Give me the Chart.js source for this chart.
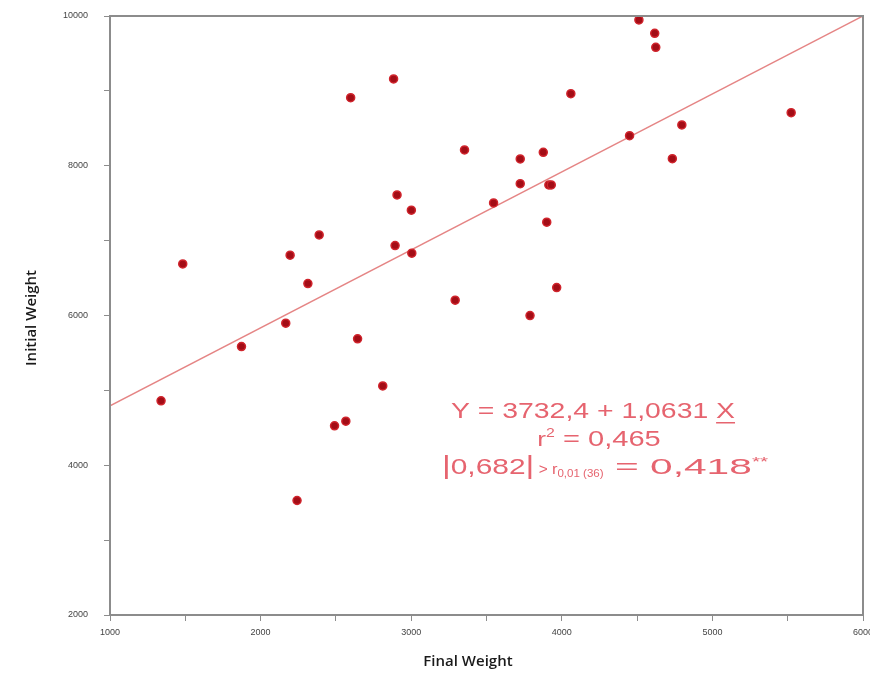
<!DOCTYPE html>
<html>
<head>
<meta charset="utf-8">
<script src="https://cdn.jsdelivr.net/npm/chart.js"></script>
<style>
  html, body { margin: 0; padding: 0; background: #ffffff; }
  #wrap { width: 870px; height: 677px; }
</style>
</head>
<body>
<div id="wrap"><canvas id="chart" width="870" height="677"></canvas></div>
<script>
// data
const finalWeight = [4512, 4617, 4624, 2883, 2598, 4060, 5523, 4797, 4450, 3354,
                     3877, 3724, 4734, 3724, 3914, 3930, 2906, 3547, 3001, 3900,
                     2389, 2893, 2196, 3004, 1483, 2314, 3966, 3292, 3789, 2167,
                     1873, 2644, 2811, 1339, 2491, 2566, 2242];
const initialWeight = [9947, 9769, 9582, 9159, 8909, 8963, 8709, 8545, 8402, 8211,
                       8180, 8091, 8095, 7761, 7744, 7744, 7610, 7504, 7406, 7246,
                       7076, 6934, 6805, 6832, 6689, 6426, 6373, 6205, 5999, 5898,
                       5585, 5688, 5060, 4860, 4526, 4589, 3529];

// regression line end points
const fitX = [1000, 6000];
const fitY = [4795, 10000];

const xTickLabels = [1000, 2000, 3000, 4000, 5000, 6000];
const yTickLabels = [2000, 4000, 6000, 8000, 10000];

const textColor = '#e6646f';

// draws a line of mixed-size text runs, centred, each run stretched sideways
function drawRuns(ctx, runs, cx, baseline, sx) {
    let total = 0;
    runs.forEach(r => {
        ctx.font = r.size + 'px "Liberation Sans", Arial, sans-serif';
        r.k = r.sx || sx;
        r.w = ctx.measureText(r.t).width * r.k;
        total += r.w;
    });
    let x = cx - total / 2;
    runs.forEach(r => {
        ctx.save();
        ctx.font = r.size + 'px "Liberation Sans", Arial, sans-serif';
        ctx.translate(x, baseline + (r.dy || 0));
        ctx.scale(r.k, 1);
        ctx.fillText(r.t, 0, 0);
        ctx.restore();
        if (r.u) {
            ctx.fillRect(x, baseline + 4, r.w, 1.5);
        }
        x += r.w;
    });
}

const extras = {
    id: 'extras',
    beforeDraw(chart) {
        const ctx = chart.ctx;
        ctx.save();
        ctx.fillStyle = '#ffffff';
        ctx.fillRect(0, 0, chart.width, chart.height);
        ctx.restore();
    },
    afterDraw(chart) {
        const ctx = chart.ctx;
        const a = chart.chartArea;
        ctx.save();
        // box round the plot
        ctx.strokeStyle = '#8c8c8c';
        ctx.lineWidth = 2;
        ctx.strokeRect(a.left, a.top, a.right - a.left, a.bottom - a.top);

        // axis titles
        ctx.fillStyle = '#1a1a1a';
        ctx.font = '600 15px "Open Sans", sans-serif';
        ctx.textAlign = 'center';
        ctx.textBaseline = 'middle';
        ctx.fillText('Final Weight', 468, 662);
        ctx.translate(32, 318);
        ctx.rotate(-Math.PI / 2);
        ctx.fillText('Initial Weight', 0, 0);
        ctx.restore();

        // regression text
        ctx.save();
        ctx.fillStyle = textColor;
        ctx.textAlign = 'left';
        ctx.textBaseline = 'alphabetic';
        drawRuns(ctx, [
            { t: 'Y = 3732,4 + 1,0631 ', size: 22 },
            { t: 'X', size: 22, u: true }
        ], 593, 418, 1.29);
        drawRuns(ctx, [
            { t: 'r', size: 20 },
            { t: '2', size: 12, dy: -9 },
            { t: ' = 0,465', size: 22 }
        ], 599, 446, 1.32);
        drawRuns(ctx, [
            { t: '|', size: 26, sx: 1.3 },
            { t: '0,682', size: 22, sx: 1.36 },
            { t: '|', size: 26, sx: 1.3 },
            { t: ' > ', size: 14, sx: 1.1 },
            { t: 'r', size: 15, sx: 1.1 },
            { t: '0,01 (36)', size: 11, dy: 3, sx: 1.05 },
            { t: ' = 0,418', size: 22, sx: 1.85 },
            { t: '**', size: 13, dy: -8, sx: 1.6 }
        ], 605, 474);
        ctx.restore();
    }
};

// keep the plot box fixed: no extra room for label overhang
function noPad(s) {
    s.paddingLeft = 0;
    s.paddingRight = 0;
    s.paddingTop = 0;
    s.paddingBottom = 0;
}

new Chart(document.getElementById('chart'), {
    type: 'scatter',
    data: {
        datasets: [
            {
                type: 'line',
                data: fitX.map((x, i) => ({ x: x, y: fitY[i] })),
                borderColor: '#e58585',
                borderWidth: 1.5,
                pointRadius: 0,
                fill: false,
                order: 2
            },
            {
                data: finalWeight.map((x, i) => ({ x: x, y: initialWeight[i] })),
                backgroundColor: '#a30d16',
                borderColor: '#d0242c',
                borderWidth: 1.5,
                pointRadius: 4,
                order: 1
            }
        ]
    },
    options: {
        responsive: false,
        animation: false,
        layout: { padding: { top: 16, right: 7, left: 0, bottom: 0 } },
        plugins: {
            legend: { display: false },
            tooltip: { enabled: false }
        },
        scales: {
            x: {
                type: 'linear',
                min: 1000,
                max: 6000,
                afterFit: s => { s.height = 62; noPad(s); },
                ticks: {
                    stepSize: 500,
                    autoSkip: false,
                    maxRotation: 0,
                    padding: 6,
                    color: '#444',
                    font: { size: 9, family: 'Liberation Sans' },
                    callback: v => xTickLabels.includes(v) ? String(v) : ''
                },
                grid: { drawOnChartArea: false, tickLength: 6, color: '#8c8c8c' },
                border: { color: '#8c8c8c', width: 2 }
            },
            y: {
                type: 'linear',
                min: 2000,
                max: 10000,
                afterFit: s => { s.width = 110; noPad(s); },
                ticks: {
                    stepSize: 1000,
                    autoSkip: false,
                    padding: 16,
                    color: '#444',
                    font: { size: 9, family: 'Liberation Sans' },
                    callback: v => yTickLabels.includes(v) ? String(v) : ''
                },
                grid: { drawOnChartArea: false, tickLength: 6, color: '#8c8c8c' },
                border: { color: '#8c8c8c', width: 2 }
            }
        }
    },
    plugins: [extras]
});
</script>
</body>
</html>
